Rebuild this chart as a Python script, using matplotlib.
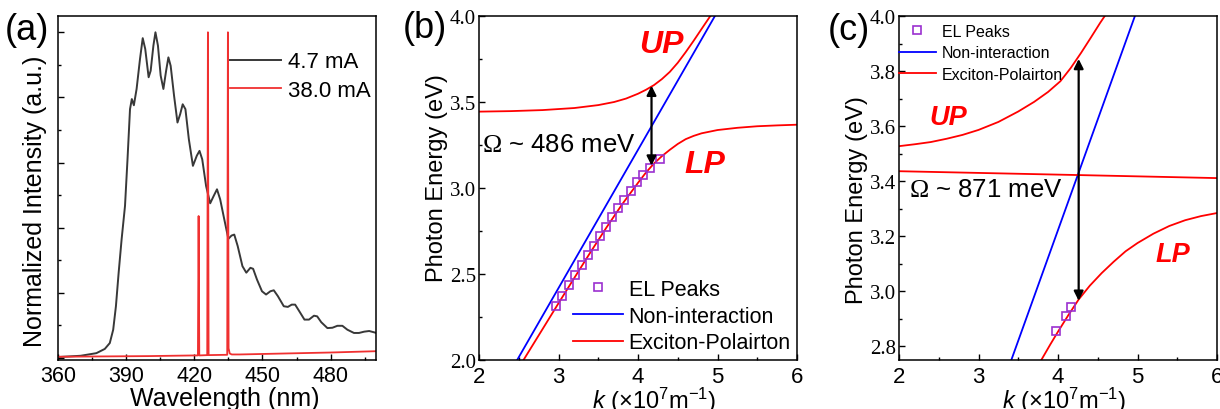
"""
EL spectra and polariton dispersion, three panels (a) (b) (c).
"""

import matplotlib
matplotlib.use('Agg')
import matplotlib.pyplot as plt
from matplotlib.ticker import MultipleLocator

plt.rcParams['font.family'] = ['Liberation Sans', 'DejaVu Sans']
plt.rcParams['mathtext.fontset'] = 'custom'
plt.rcParams['mathtext.rm'] = 'Liberation Serif'
plt.rcParams['mathtext.it'] = 'Liberation Sans:italic'
plt.rcParams['mathtext.sf'] = 'Liberation Sans'

# ---- panel (a): normalized EL spectra ----
wl_low = [360, 370.0, 376.9, 380.6, 382.8, 384.3, 385.5, 386.7, 388.0, 389.5,
          390.6, 391.7, 392.5, 393.4, 394.6, 396.1, 397.3, 398.4, 399.9, 400.8,
          402.0, 402.9, 404.0, 405.2, 406.4, 407.6, 408.6, 409.6, 411.1, 412.6,
          413.8, 414.9, 416.1, 417.6, 419.4, 421.1, 422.3, 423.5, 425.2, 427.0,
          428.5, 430.0, 431.4, 433.2, 435.0, 436.4, 437.6, 439.1, 441.2, 442.9,
          444.7, 445.9, 447.6, 449.8, 451.6, 453.5, 455.0, 456.8, 459.4, 461.2,
          462.9, 464.4, 466.2, 468.5, 470.5, 472.7, 474.1, 475.9, 478.6, 480.8,
          483.0, 485.2, 487.4, 490.3, 492.5, 494.8, 497.0, 500.2]
int_low = [0.003, 0.007, 0.015, 0.028, 0.046, 0.087, 0.159, 0.262, 0.364, 0.467,
           0.610, 0.764, 0.795, 0.776, 0.826, 0.918, 0.982, 0.949, 0.862, 0.882,
           0.959, 1.000, 0.959, 0.867, 0.826, 0.882, 0.923, 0.897, 0.805, 0.723,
           0.749, 0.779, 0.764, 0.672, 0.590, 0.621, 0.636, 0.610, 0.528, 0.475,
           0.497, 0.518, 0.487, 0.426, 0.366, 0.376, 0.379, 0.344, 0.282, 0.262,
           0.277, 0.274, 0.241, 0.205, 0.195, 0.205, 0.208, 0.190, 0.159, 0.157,
           0.164, 0.164, 0.144, 0.118, 0.118, 0.130, 0.128, 0.110, 0.092, 0.093,
           0.099, 0.099, 0.087, 0.077, 0.077, 0.081, 0.083, 0.077]

wl_high = [360, 400, 420, 421.6, 421.9, 422.2, 425.7, 426.0, 426.3, 434.5,
           434.8, 435.1, 435.6, 436.5, 440, 460, 480, 500]
int_high = [0.004, 0.006, 0.008, 0.008, 0.436, 0.008, 0.009, 1.000, 0.009, 0.010,
            1.000, 0.030, 0.014, 0.011, 0.011, 0.014, 0.017, 0.021]

# ---- panels (b) and (c): dispersion ----
blue_k = [2.48, 4.98]
blue_e = [2.0, 4.01]

b_up_k = [2.0, 2.4, 2.8, 3.2, 3.5, 3.7, 3.85, 4.0, 4.1, 4.2, 4.3, 4.4, 4.5,
          4.6, 4.7, 4.8, 4.91]
b_up_e = [3.444, 3.447, 3.453, 3.465, 3.482, 3.500, 3.520, 3.548, 3.571, 3.598,
          3.633, 3.675, 3.728, 3.790, 3.856, 3.925, 4.0]
b_lp_k = [2.56, 2.8, 3.0, 3.2, 3.4, 3.6, 3.8, 4.0, 4.1, 4.2, 4.3, 4.4, 4.5,
          4.6, 4.7, 4.8, 5.0, 5.25, 5.5, 5.75, 6.0]
b_lp_e = [2.000, 2.180, 2.330, 2.478, 2.625, 2.768, 2.905, 3.030, 3.090, 3.142,
          3.185, 3.222, 3.256, 3.284, 3.303, 3.318, 3.337, 3.350, 3.359, 3.364,
          3.368]
b_el_k = [2.970, 3.049, 3.133, 3.213, 3.293, 3.373, 3.452, 3.528, 3.603, 3.679,
          3.754, 3.830, 3.910, 3.990, 4.069, 4.153, 4.279]
b_el_e = [2.312, 2.374, 2.436, 2.494, 2.554, 2.610, 2.664, 2.720, 2.774, 2.829,
          2.881, 2.933, 2.984, 3.032, 3.076, 3.119, 3.171]

c_up_k = [2.0, 2.2, 2.4, 2.6, 2.8, 3.0, 3.25, 3.5, 3.7, 3.875, 4.03, 4.16, 4.29,
          4.41, 4.53, 4.6]
c_up_e = [3.527, 3.534, 3.542, 3.554, 3.568, 3.586, 3.615, 3.653, 3.688, 3.724,
          3.763, 3.811, 3.866, 3.920, 3.975, 4.005]
c_mid_k = [2.0, 4.26, 6.0]
c_mid_e = [3.436, 3.422, 3.411]
c_lp_k = [3.79, 3.9, 4.0, 4.13, 4.26, 4.4, 4.55, 4.7, 4.85, 5.0, 5.2, 5.4, 5.6,
          5.8, 6.0]
c_lp_e = [2.750, 2.805, 2.853, 2.913, 2.970, 3.020, 3.066, 3.107, 3.145, 3.175,
          3.209, 3.237, 3.258, 3.273, 3.284]
c_el_k = [3.98, 4.10, 4.16]
c_el_e = [2.854, 2.911, 2.941]

RED = '#ff0000'
BLUE = '#0000ff'
PURPLE = '#9b30d0'
W, H = 1220, 410


def style_axes(ax):
    ax.tick_params(which='both', direction='in', top=False, right=False)
    ax.tick_params(which='major', length=4, width=1)
    ax.tick_params(which='minor', length=2, width=1)
    for s in ax.spines.values():
        s.set_linewidth(1.1)


def dispersion_axes(ax, yticks, yminor, xlabel_x, ylabel_y):
    style_axes(ax)
    ax.set_xlim(2, 6)
    ax.xaxis.set_major_locator(MultipleLocator(1))
    ax.xaxis.set_minor_locator(MultipleLocator(0.5))
    ax.yaxis.set_minor_locator(MultipleLocator(yminor))
    ax.set_yticks(yticks)
    ax.set_yticklabels([f'{t:.1f}' for t in yticks], fontfamily='Liberation Serif', fontsize=15)
    ax.tick_params(axis='x', labelsize=16, pad=4)
    ax.tick_params(axis='y', pad=2)
    ax.set_ylabel('Photon Energy (eV)', fontsize=17)
    ax.yaxis.set_label_coords(-0.098, ylabel_y)
    ax.set_xlabel(r'$k$ (×10$^{\mathsf{7}}$m$^{\mathsf{-1}}$)', fontsize=17)
    ax.xaxis.set_label_coords(xlabel_x, -0.071)


fig = plt.figure(figsize=(W / 100, H / 100), dpi=100)

def axes_px(x0, x1, y0, y1):
    return fig.add_axes([x0 / W, 1 - y1 / H, (x1 - x0) / W, (y1 - y0) / H])

# (a)
ax = axes_px(58, 376, 17, 361)
style_axes(ax)
ax.plot(wl_low, int_low, color='#383838', lw=1.4, label='4.7 mA')
ax.plot(wl_high, int_high, color='#f03030', lw=1.3, label='38.0 mA')
ax.set_xlim(360, 500)
ax.set_ylim(-0.006, 1.05)
ax.xaxis.set_major_locator(MultipleLocator(30))
ax.xaxis.set_minor_locator(MultipleLocator(15))
ax.yaxis.set_major_locator(MultipleLocator(0.2))
ax.yaxis.set_minor_locator(MultipleLocator(0.1))
ax.set_yticklabels([])
ax.tick_params(axis='x', labelsize=15.5)
ax.set_xlabel('Wavelength (nm)', fontsize=18, labelpad=1)
ax.xaxis.set_label_coords(0.525, -0.075)
ax.set_ylabel('Normalized Intensity (a.u.)', fontsize=18)
ax.yaxis.set_label_coords(-0.035, 0.465)
ax.legend(loc='upper left', bbox_to_anchor=(0.541, 0.897), frameon=False,
          borderpad=0, borderaxespad=0, handlelength=2.3, handletextpad=0.32,
          labelspacing=0.33, fontsize=16)

# (b)
ax = axes_px(479, 797, 17, 361)
ax.plot(b_el_k, b_el_e, 's', mfc='none', mec=PURPLE, ms=6, mew=1.2, label='EL Peaks', zorder=3)
ax.plot(blue_k, blue_e, color=BLUE, lw=1.3, label='Non-interaction')
ax.plot(b_lp_k, b_lp_e, color=RED, lw=1.3, label='Exciton-Polairton')
ax.plot(b_up_k, b_up_e, color=RED, lw=1.3)
ax.set_ylim(2.0, 4.0)
dispersion_axes(ax, [2.0, 2.5, 3.0, 3.5, 4.0], 0.25, 0.55, 0.532)
ax.annotate('', xy=(4.17, 3.595), xytext=(4.17, 3.13),
            arrowprops=dict(arrowstyle='<|-|>', color='k', lw=1.6,
                            mutation_scale=14, shrinkA=0, shrinkB=0))
ax.text(2.04, 3.256, r'$\Omega$ ~ 486 meV', fontsize=18.5, va='center', ha='left')
ax.text(4.01, 3.84, 'UP', color=RED, fontsize=23, fontweight='bold',
        fontstyle='italic', va='center', ha='left')
ax.text(4.58, 3.14, 'LP', color=RED, fontsize=23, fontweight='bold',
        fontstyle='italic', va='center', ha='left')
ax.legend(loc='upper left', bbox_to_anchor=(0.296, 0.236), frameon=False,
          borderpad=0, borderaxespad=0, handlelength=2.3, handletextpad=0.28,
          labelspacing=0.27, fontsize=15.5, numpoints=1)

# (c)
ax = axes_px(899, 1217, 17, 361)
ax.plot(c_el_k, c_el_e, 's', mfc='none', mec=PURPLE, ms=6, mew=1.2, label='EL Peaks', zorder=3)
ax.plot(blue_k, blue_e, color=BLUE, lw=1.3, label='Non-interaction')
ax.plot(c_up_k, c_up_e, color=RED, lw=1.3, label='Exciton-Polairton')
ax.plot(c_mid_k, c_mid_e, color=RED, lw=1.3)
ax.plot(c_lp_k, c_lp_e, color=RED, lw=1.3)
ax.set_ylim(2.75, 4.0)
dispersion_axes(ax, [2.8, 3.0, 3.2, 3.4, 3.6, 3.8, 4.0], 0.1, 0.52, 0.468)
ax.annotate('', xy=(4.26, 3.844), xytext=(4.26, 2.965),
            arrowprops=dict(arrowstyle='<|-|>', color='k', lw=1.6,
                            mutation_scale=14, shrinkA=0, shrinkB=0))
ax.text(2.13, 3.371, r'$\Omega$ ~ 871 meV', fontsize=18.5, va='center', ha='left')
ax.text(2.38, 3.633, 'UP', color=RED, fontsize=19.5, fontweight='bold',
        fontstyle='italic', va='center', ha='left')
ax.text(5.23, 3.135, 'LP', color=RED, fontsize=19.5, fontweight='bold',
        fontstyle='italic', va='center', ha='left')
ax.legend(loc='upper left', bbox_to_anchor=(0.0, 0.978), frameon=False,
          borderpad=0, borderaxespad=0, handlelength=2.3, handletextpad=0.37,
          labelspacing=0.42, fontsize=11.5, numpoints=1)

# panel letters
fig.text(5 / W, 1 - 30 / H, '(a)', fontsize=26, va='center', ha='left')
fig.text(403 / W, 1 - 28 / H, '(b)', fontsize=26, va='center', ha='left')
fig.text(828 / W, 1 - 31 / H, '(c)', fontsize=26, va='center', ha='left')

fig.savefig('out.png', dpi=100)
